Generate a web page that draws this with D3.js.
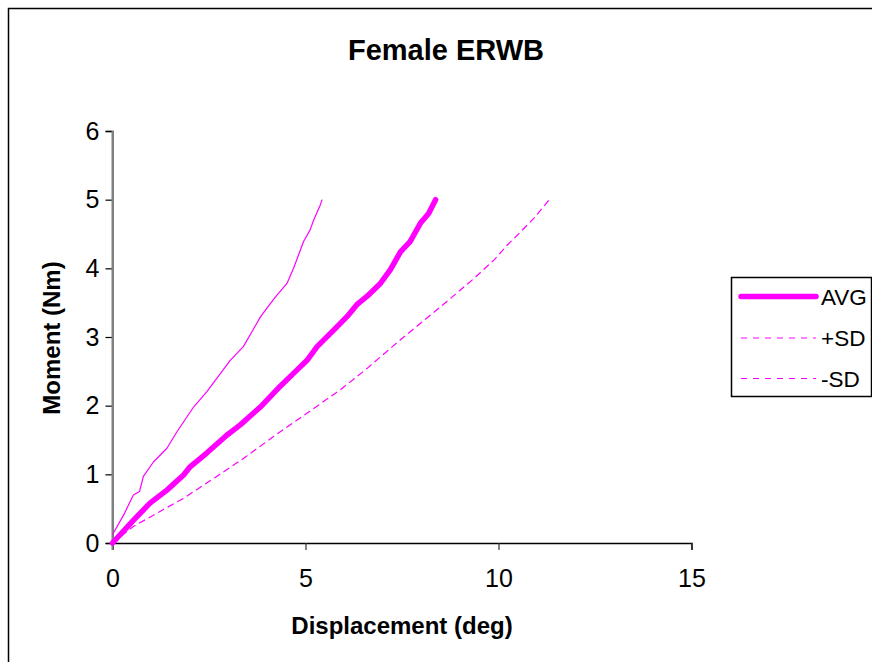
<!DOCTYPE html>
<html>
<head>
<meta charset="utf-8">
<script src="https://cdn.jsdelivr.net/npm/d3@7"></script>
<style>
  html, body { margin: 0; padding: 0; background: #fff; }
  svg { display: block; font-family: "Liberation Sans", Arial, sans-serif; }
</style>
</head>
<body>
<svg id="chart" width="872" height="662"></svg>
<script>
// ---- Data ----
const title = "Female ERWB";
const xTitle = "Displacement (deg)";
const yTitle = "Moment (Nm)";
const xTicks = [0, 5, 10, 15];
const yTicks = [0, 1, 2, 3, 4, 5, 6];
const seriesNames = ["AVG", "+SD", "-SD"];

const avgX = [0, 0.54, 0.97, 1.41, 1.84, 2.01, 2.44, 2.96, 3.31, 3.83, 4.34, 4.69, 5.04, 5.30, 5.73, 6.08, 6.33, 6.59, 6.94, 7.20, 7.46, 7.71, 7.98, 8.19, 8.37];
const avgY = [0, 0.33, 0.58, 0.77, 0.99, 1.11, 1.31, 1.57, 1.72, 1.98, 2.28, 2.47, 2.66, 2.86, 3.10, 3.30, 3.47, 3.59, 3.78, 3.98, 4.24, 4.39, 4.66, 4.80, 5.00];

const plusX = [0, 0.30, 0.54, 0.70, 0.80, 1.06, 1.41, 1.67, 2.10, 2.44, 3.05, 3.39, 3.83, 4.00, 4.26, 4.52, 4.69, 4.95, 5.12, 5.21, 5.38, 5.43];
const plusY = [0.12, 0.42, 0.70, 0.75, 0.97, 1.18, 1.38, 1.62, 1.98, 2.20, 2.66, 2.86, 3.29, 3.42, 3.61, 3.78, 4.00, 4.39, 4.56, 4.70, 4.92, 5.00];

const minusX = [0, 0.54, 1.23, 1.84, 2.70, 3.39, 4.17, 4.86, 5.90, 6.59, 7.46, 7.98, 8.50, 9.36, 9.88, 10.23, 10.57, 10.92, 11.30];
const minusY = [0, 0.24, 0.46, 0.65, 0.97, 1.23, 1.55, 1.82, 2.23, 2.54, 2.96, 3.20, 3.44, 3.85, 4.12, 4.34, 4.53, 4.73, 4.99];

// ---- Layout ----
const svg = d3.select("#chart");
const color = "#FF00FF";
const plot = { left: 112.5, right: 691.5, top: 131, bottom: 543 };

const x = d3.scaleLinear().domain([0, 15]).range([plot.left, plot.right]);
const y = d3.scaleLinear().domain([0, 6]).range([plot.bottom, plot.top]);

// Chart area border
svg.append("rect")
  .attr("x", 8.5).attr("y", 8.5)
  .attr("width", 900).attr("height", 700)
  .attr("fill", "#fff").attr("stroke", "#000").attr("stroke-width", 1.5);

// Title
svg.append("text")
  .attr("x", 446).attr("y", 60)
  .attr("text-anchor", "middle")
  .attr("font-size", 29).attr("font-weight", "bold")
  .text(title);

// Axes
const yAxis = svg.append("g")
  .attr("transform", `translate(${plot.left},0)`)
  .call(d3.axisLeft(y).tickValues(yTicks).tickSize(7).tickPadding(6).tickFormat(d3.format("d")));
yAxis.select(".domain").attr("stroke", "#808080").attr("stroke-width", 2);
yAxis.selectAll(".tick line").attr("stroke", "#000").attr("stroke-width", 1.2);
yAxis.selectAll(".tick text").attr("font-size", 25).attr("fill", "#000")
  .attr("font-family", "Liberation Sans, Arial, sans-serif");

const xAxis = svg.append("g")
  .attr("transform", `translate(0,${plot.bottom})`)
  .call(d3.axisBottom(x).tickValues(xTicks).tickSize(7).tickPadding(19).tickFormat(d3.format("d")));
xAxis.select(".domain").attr("stroke", "#000").attr("stroke-width", 1.5);
xAxis.selectAll(".tick line").attr("stroke", "#333").attr("stroke-width", 1.2);
xAxis.selectAll(".tick text").attr("font-size", 25).attr("fill", "#000")
  .attr("font-family", "Liberation Sans, Arial, sans-serif");
// gray y-axis line extends slightly below the x axis
svg.append("line")
  .attr("x1", plot.left).attr("x2", plot.left)
  .attr("y1", plot.top).attr("y2", plot.bottom + 7)
  .attr("stroke", "#808080").attr("stroke-width", 2);

// Axis titles
svg.append("text")
  .attr("x", 402).attr("y", 634)
  .attr("text-anchor", "middle")
  .attr("font-size", 24).attr("font-weight", "bold")
  .text(xTitle);
svg.append("text")
  .attr("transform", "translate(60,338) rotate(-90)")
  .attr("text-anchor", "middle")
  .attr("font-size", 24).attr("font-weight", "bold")
  .text(yTitle);

// Lines
const line = d3.line().x(d => x(d[0])).y(d => y(d[1]));
const zip = (a, b) => a.map((v, i) => [v, b[i]]);

svg.append("path").datum(zip(minusX, minusY))
  .attr("d", line).attr("fill", "none").attr("stroke", color)
  .attr("stroke-width", 1.2).attr("stroke-dasharray", "7,4");
svg.append("path").datum(zip(plusX, plusY))
  .attr("d", line).attr("fill", "none").attr("stroke", color)
  .attr("stroke-width", 1.2).attr("stroke-linejoin", "round");
svg.append("path").datum(zip(avgX, avgY))
  .attr("d", line).attr("fill", "none").attr("stroke", color)
  .attr("stroke-width", 5.5).attr("stroke-linecap", "round").attr("stroke-linejoin", "round");

// Legend
const lg = svg.append("g");
lg.append("rect")
  .attr("x", 731.5).attr("y", 277.5).attr("width", 140).attr("height", 119)
  .attr("fill", "#fff").attr("stroke", "#000").attr("stroke-width", 1.5);
const legendStyles = [
  { w: 5.5, dash: null },
  { w: 1.2, dash: "6,6" },
  { w: 1.2, dash: "6,6" }
];
const legendY = [296.5, 338, 378.5];
seriesNames.forEach((name, i) => {
  const l = lg.append("line")
    .attr("x1", 741).attr("x2", 816)
    .attr("y1", legendY[i]).attr("y2", legendY[i])
    .attr("stroke", color).attr("stroke-width", legendStyles[i].w)
    .attr("stroke-linecap", legendStyles[i].dash ? "butt" : "round");
  if (legendStyles[i].dash) l.attr("stroke-dasharray", legendStyles[i].dash);
  lg.append("text")
    .attr("x", 821).attr("y", legendY[i] + 8)
    .attr("font-size", 22.5)
    .text(name);
});
</script>
</body>
</html>
